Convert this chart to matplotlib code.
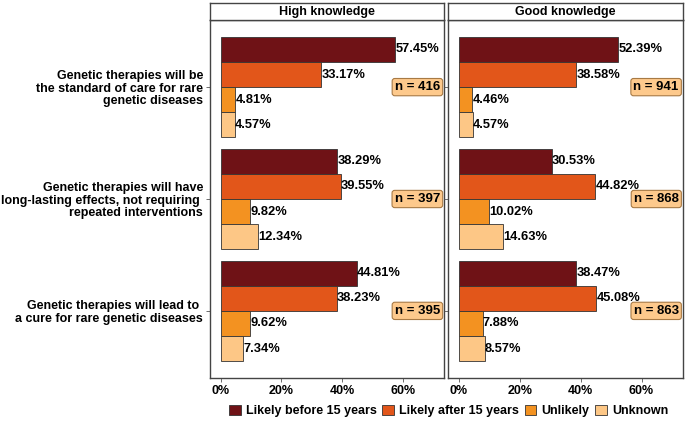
import matplotlib
matplotlib.use("Agg")
import matplotlib.pyplot as plt
from matplotlib.patches import Patch

plt.rcParams['font.family'] = ['Liberation Sans', 'DejaVu Sans']
plt.rcParams['font.weight'] = 'bold'

statements = [
    "Genetic therapies will be\nthe standard of care for rare\ngenetic diseases",
    "Genetic therapies will have\nlong-lasting effects, not requiring \nrepeated interventions",
    "Genetic therapies will lead to \na cure for rare genetic diseases",
]
responses = ["Likely before 15 years", "Likely after 15 years", "Unlikely", "Unknown"]
colors = ["#6F1216", "#E2561A", "#F39221", "#FDC786"]
panels = ["High knowledge", "Good knowledge"]

high_before = [57.45, 38.29, 44.81]
high_after = [33.17, 39.55, 38.23]
high_unlikely = [4.81, 9.82, 9.62]
high_unknown = [4.57, 12.34, 7.34]
high_n = [416, 397, 395]

good_before = [52.39, 30.53, 38.47]
good_after = [38.58, 44.82, 45.08]
good_unlikely = [4.46, 10.02, 7.88]
good_unknown = [4.57, 14.63, 8.57]
good_n = [941, 868, 863]

panel_data = [
    [high_before, high_after, high_unlikely, high_unknown],
    [good_before, good_after, good_unlikely, good_unknown],
]
panel_n = [high_n, good_n]

xticks = [0, 20, 40, 60]
xticklabels = ["0%", "20%", "40%", "60%"]

fig = plt.figure(figsize=(6.85, 4.23), dpi=100)
W, H = 685, 423

def fx(px):
    return px / W

def fy(py):
    return (H - py) / H

panel_x = [(210, 444), (448, 682.7)]
top, bottom = 20, 378
strip_top = 3

FS = 9
edge = "#333333"
bw = 0.225
offsets = [-1.5 * bw, -0.5 * bw, 0.5 * bw, 1.5 * bw]

for pi, (x0, x1) in enumerate(panel_x):
    ax = fig.add_axes([fx(x0), fy(bottom), fx(x1) - fx(x0), (bottom - top) / H])
    for ri, series in enumerate(panel_data[pi]):
        ys = [i + offsets[ri] for i in range(len(statements))]
        ax.barh(ys, series, height=bw, color=colors[ri], edgecolor=edge, linewidth=0.6)
        for y, v in zip(ys, series):
            ax.text(v + 0.1, y, f"{v:.2f}%", va="center", ha="left",
                    fontsize=FS + 0.3, fontweight="bold", color="black")
    for i, n in enumerate(panel_n[pi]):
        ax.text(72.2, i, f"n = {n}", ha="right", va="center", fontsize=FS + 0.5,
                fontweight="bold", color="black",
                bbox=dict(boxstyle="round,pad=0.2,rounding_size=0.2",
                          facecolor="#FDC98C", edgecolor="#A87A45", linewidth=0.8))
    ax.set_xlim(-3.5, 73.5)
    ax.set_ylim(2.6, -0.6)
    ax.set_xticks(xticks)
    ax.set_xticklabels(xticklabels, fontsize=FS, fontweight="bold", color="black")
    ax.set_yticks(range(len(statements)))
    if pi == 0:
        ax.set_yticklabels(statements, fontsize=FS, fontweight="bold", color="black",
                           linespacing=1.05, ha="right", multialignment="right")
    else:
        ax.set_yticklabels([])
        ax.tick_params(axis="y", length=0)
    ax.tick_params(axis="both", length=3, width=0.6, color="#555555", pad=2)
    for s in ax.spines.values():
        s.set_color("#444444")
        s.set_linewidth(1.0)
    ax.set_facecolor("white")

    sax = fig.add_axes([fx(x0), fy(top), fx(x1) - fx(x0), (top - strip_top) / H])
    sax.set_xticks([])
    sax.set_yticks([])
    for s in sax.spines.values():
        s.set_color("#444444")
        s.set_linewidth(1.0)
    sax.text(0.5, 0.45, panels[pi], ha="center", va="center", fontsize=FS,
             fontweight="bold", transform=sax.transAxes)

handles = [Patch(facecolor=c, edgecolor=edge, linewidth=0.6, label=l)
           for c, l in zip(colors, responses)]
fig.legend(handles=handles, loc="center", bbox_to_anchor=(fx(448.5), fy(411)), ncol=4,
           frameon=False, handlelength=0.95, handleheight=0.95,
           handletextpad=0.4, columnspacing=0.45, borderaxespad=0,
           prop={"weight": "bold", "size": FS})

fig.savefig("out.png", dpi=100, facecolor="white")
